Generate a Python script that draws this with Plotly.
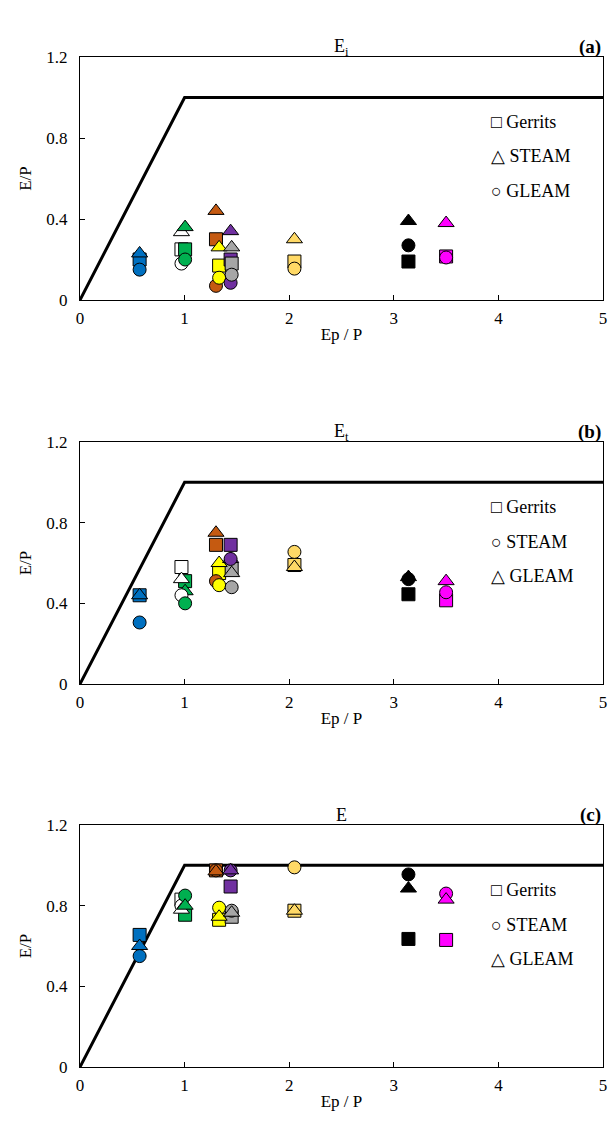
import plotly.graph_objects as go

# Catchments: colour per catchment, Ep/P per catchment
colors = ["#0070C0", "#FFFFFF", "#00B050", "#C55A11", "#FFFF00",
          "#7030A0", "#A6A6A6", "#FFD966", "#000000", "#FF00FF"]
ep_p = [0.57, 0.97, 1.005, 1.30, 1.33, 1.44, 1.45, 2.05, 3.14, 3.50]

# Panel (a) Ei
ei_gerrits = [0.20, 0.25, 0.25, 0.30, 0.17, 0.20, 0.18, 0.19, 0.19, 0.215]
ei_steam = [0.23, 0.335, 0.36, 0.44, 0.26, 0.34, 0.26, 0.30, 0.39, 0.38]
ei_gleam = [0.15, 0.18, 0.20, 0.07, 0.11, 0.085, 0.125, 0.155, 0.27, 0.21]

# Panel (b) Et
et_gerrits = [0.44, 0.58, 0.51, 0.69, 0.55, 0.69, 0.57, 0.59, 0.445, 0.415]
et_steam = [0.305, 0.44, 0.40, 0.51, 0.49, 0.62, 0.48, 0.655, 0.52, 0.455]
et_gleam = [0.44, 0.52, 0.46, 0.75, 0.60, 0.62, 0.55, 0.58, 0.53, 0.51]

# Panel (c) E
e_gerrits = [0.655, 0.83, 0.755, 0.975, 0.73, 0.895, 0.745, 0.775, 0.635, 0.63]
e_steam = [0.55, 0.80, 0.85, 0.975, 0.79, 0.975, 0.775, 0.99, 0.955, 0.86]
e_gleam = [0.60, 0.78, 0.80, 0.97, 0.745, 0.975, 0.765, 0.775, 0.885, 0.83]

# Limit line
lim_x = [0, 1, 5]
lim_y = [0, 1, 1]

x_ticks = [0, 1, 2, 3, 4, 5]
y_ticks = [0, 0.4, 0.8, 1.2]
y_ticklabels = ["0", "0.4", "0.8", "1.2"]

legend_a = ["□ Gerrits", "△ STEAM", "○ GLEAM"]
legend_bc = ["□ Gerrits", "○ STEAM", "△ GLEAM"]

FONT = "Liberation Serif"
H = 1135
W = 609

# pixel rows of plot areas (top, bottom)
rows = [(57, 300), (442, 684), (825, 1067)]

panels = [
    ("E<sub>i</sub>", "(a)",
     [("Gerrits", "square", ei_gerrits), ("GLEAM", "circle", ei_gleam), ("STEAM", "triangle-up", ei_steam)],
     legend_a),
    ("E<sub>t</sub>", "(b)",
     [("Gerrits", "square", et_gerrits), ("GLEAM", "triangle-up", et_gleam), ("STEAM", "circle", et_steam)],
     legend_bc),
    ("E", "(c)",
     [("Gerrits", "square", e_gerrits), ("STEAM", "circle", e_steam), ("GLEAM", "triangle-up", e_gleam)],
     legend_bc),
]

fig = go.Figure()
annotations = []
layout = {}

for i, (title, tag, series, leg_texts) in enumerate(panels):
    n = "" if i == 0 else str(i + 1)
    xa = "x" + n
    ya = "y" + n
    top, bot = rows[i]
    dom = [1 - bot / H, 1 - top / H]

    fig.add_trace(go.Scatter(x=lim_x, y=lim_y, mode="lines",
                             line=dict(color="black", width=3),
                             showlegend=False, hoverinfo="skip",
                             xaxis=xa, yaxis=ya))
    for name, sym, vals in series:
        fig.add_trace(go.Scatter(
            x=ep_p, y=vals, mode="markers", name=name, showlegend=False,
            marker=dict(symbol=sym, size=13 if sym != "triangle-up" else 14,
                        color=colors, line=dict(color="black", width=1)),
            xaxis=xa, yaxis=ya))

    ax_common = dict(showline=True, linecolor="black", linewidth=1, mirror=True,
                     ticks="inside", ticklen=5, tickcolor="black",
                     showgrid=False, zeroline=False, automargin=False,
                     tickfont=dict(family=FONT, size=17, color="black"))
    layout["xaxis" + n] = dict(ax_common, range=[0, 5], tickvals=x_ticks,
                               anchor=ya, ticklabelstandoff=3,
                               title=dict(text="Ep / P", font=dict(family=FONT, size=17, color="black"),
                                          standoff=0))
    layout["yaxis" + n] = dict(ax_common, range=[0, 1.2], tickvals=y_ticks,
                               ticktext=y_ticklabels, domain=dom, anchor=xa,
                               ticklabelstandoff=8,
                               title=dict(text="E/P", font=dict(family=FONT, size=17, color="black"),
                                          standoff=10))
    for k, txt in enumerate(leg_texts):
        annotations.append(dict(text=txt, x=(489 - 80) / (W - 86), xref="paper",
                                y=1 - (top + 65 + 34.5 * k) / H, yref="paper",
                                showarrow=False, xanchor="left", yanchor="middle",
                                font=dict(family=FONT, size=18, color="black")))
    annotations.append(dict(text=title, x=0.5, xref="paper", y=1 - (top - 10) / H,
                            yref="paper", showarrow=False, xanchor="center", yanchor="middle",
                            font=dict(family=FONT, size=18, color="black")))
    annotations.append(dict(text="<b>" + tag + "</b>", x=1.0, xref="paper", y=1 - (top - 10) / H,
                            yref="paper", showarrow=False, xanchor="right", yanchor="middle",
                            font=dict(family=FONT, size=19, color="black")))

fig.update_layout(
    width=W, height=H,
    margin=dict(l=80, r=6, t=0, b=0, autoexpand=False),
    paper_bgcolor="white", plot_bgcolor="white",
    showlegend=False,
    annotations=annotations,
    **layout,
)

fig.write_html("out.html", config={"displayModeBar": False},
               post_script="document.body.style.margin='0px';document.body.style.overflow='hidden';")
